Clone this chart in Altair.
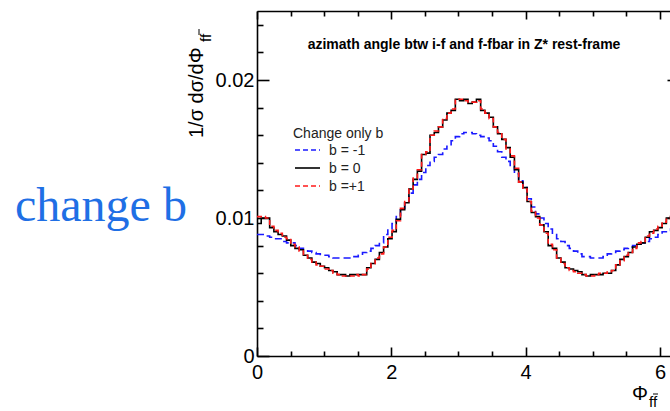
import math
import altair as alt
import pandas as pd

# ---------------- data (100 bins over 0..2pi) ----------------
N_BINS = 100
PHI_MAX = 2 * math.pi

b_minus1 = [
    0.0088, 0.0088, 0.0087, 0.0086, 0.0085, 0.0085, 0.0083, 0.0082, 0.0082, 0.0080,
    0.0078, 0.0077, 0.0076, 0.0075, 0.0074, 0.0073, 0.0073, 0.0072, 0.0071, 0.0071,
    0.0071, 0.0071, 0.0072, 0.0072, 0.0073, 0.0075, 0.0076, 0.0078, 0.0080, 0.0082,
    0.0088, 0.0092, 0.0096, 0.0101, 0.0106, 0.0112, 0.0118, 0.0124, 0.0128, 0.0133,
    0.0138, 0.0141, 0.0144, 0.0146, 0.0150, 0.0152, 0.0156, 0.0159, 0.0161, 0.0162,
    0.0162, 0.0161, 0.0160, 0.0159, 0.0158, 0.0156, 0.0152, 0.0148, 0.0144, 0.0141,
    0.0137, 0.0132, 0.0127, 0.0122, 0.0114, 0.0108, 0.0103, 0.0100, 0.0096, 0.0092,
    0.0088, 0.0085, 0.0083, 0.0080, 0.0078, 0.0076, 0.0074, 0.0072, 0.0072, 0.0071,
    0.0071, 0.0071, 0.0072, 0.0074, 0.0075, 0.0076, 0.0077, 0.0078, 0.0079, 0.0080,
    0.0081, 0.0082, 0.0083, 0.0085, 0.0086, 0.0088, 0.0090, 0.0091, 0.0092, 0.0090,
]

b_zero = [
    0.0096, 0.0100, 0.0100, 0.0093, 0.0090, 0.0088, 0.0087, 0.0084, 0.0080, 0.0078,
    0.0077, 0.0073, 0.0071, 0.0068, 0.0067, 0.0065, 0.0064, 0.0062, 0.0061, 0.0059,
    0.0059, 0.0058, 0.0059, 0.0059, 0.0059, 0.0059, 0.0064, 0.0067, 0.0070, 0.0075,
    0.0079, 0.0085, 0.0090, 0.0099, 0.0106, 0.0111, 0.0121, 0.0128, 0.0134, 0.0146,
    0.0147, 0.0160, 0.0162, 0.0166, 0.0171, 0.0176, 0.0178, 0.0186, 0.0185, 0.0186,
    0.0183, 0.0184, 0.0186, 0.0178, 0.0176, 0.0173, 0.0166, 0.0161, 0.0157, 0.0151,
    0.0144, 0.0135, 0.0126, 0.0122, 0.0112, 0.0104, 0.0101, 0.0095, 0.0090, 0.0080,
    0.0078, 0.0071, 0.0068, 0.0064, 0.0063, 0.0062, 0.0061, 0.0059, 0.0058, 0.0059,
    0.0059, 0.0059, 0.0060, 0.0060, 0.0062, 0.0066, 0.0070, 0.0072, 0.0075, 0.0079,
    0.0081, 0.0082, 0.0086, 0.0090, 0.0091, 0.0093, 0.0096, 0.0100, 0.0101, 0.0097,
]

b_plus1 = [
    0.0101, 0.0101, 0.0100, 0.0094, 0.0091, 0.0089, 0.0086, 0.0085, 0.0081, 0.0079,
    0.0076, 0.0073, 0.0070, 0.0068, 0.0066, 0.0065, 0.0063, 0.0062, 0.0060, 0.0059,
    0.0058, 0.0058, 0.0058, 0.0059, 0.0058, 0.0059, 0.0063, 0.0067, 0.0071, 0.0074,
    0.0079, 0.0086, 0.0091, 0.0098, 0.0107, 0.0112, 0.0121, 0.0129, 0.0135, 0.0146,
    0.0148, 0.0160, 0.0163, 0.0166, 0.0172, 0.0176, 0.0179, 0.0186, 0.0186, 0.0185,
    0.0184, 0.0184, 0.0185, 0.0179, 0.0176, 0.0172, 0.0166, 0.0162, 0.0157, 0.0150,
    0.0145, 0.0136, 0.0126, 0.0121, 0.0112, 0.0105, 0.0100, 0.0095, 0.0089, 0.0081,
    0.0077, 0.0071, 0.0067, 0.0064, 0.0062, 0.0061, 0.0060, 0.0059, 0.0058, 0.0058,
    0.0059, 0.0060, 0.0060, 0.0061, 0.0062, 0.0066, 0.0069, 0.0073, 0.0075, 0.0078,
    0.0082, 0.0083, 0.0087, 0.0089, 0.0092, 0.0094, 0.0097, 0.0099, 0.0101, 0.0098,
]

x_major = [0, 2, 4, 6]
x_minor = [0.5, 1, 1.5, 2.5, 3, 3.5, 4.5, 5, 5.5]
y_major = [0, 0.01, 0.02]
y_minor = [0.002, 0.004, 0.006, 0.008, 0.012, 0.014, 0.016, 0.018, 0.022, 0.024]

title_text = "azimath angle btw i-f and f-fbar in Z* rest-frame"
legend_title = "Change only b"
legend_labels = ["b = -1", "b = 0", "b =+1"]
side_text = "change b"
y_title = "1/σ dσ/dΦ"
x_title = "Φ"
sub_text = "ff"

# ---------------- layout ----------------
W, H = 413, 345
X_DOMAIN = [0, 6.149]
Y_DOMAIN = [0, 0.025]
FONT = "Liberation Sans"
FRAME_W = 1.6

edges = [i * PHI_MAX / N_BINS for i in range(N_BINS + 1)]


def hist_df(vals):
    return pd.DataFrame({"phi": edges, "v": vals + [vals[-1]]})


xs = alt.Scale(domain=X_DOMAIN, nice=False, zero=False)
ys = alt.Scale(domain=Y_DOMAIN, nice=False, zero=False)


def tick_axis(orient, values, size, offset=0, domain=False):
    kw = dict(orient=orient, values=values, ticks=True, tickSize=size,
              tickColor="black", tickWidth=FRAME_W, labels=False, grid=False,
              title=None, domain=domain)
    if domain:
        kw.update(domainColor="black", domainWidth=FRAME_W)
    if offset:
        kw["offset"] = offset
    return alt.Axis(**kw)


ax_x_labels = alt.Axis(orient="bottom", values=x_major, ticks=False, domain=True,
                       domainColor="black", domainWidth=FRAME_W, labels=True,
                       labelFont=FONT, labelFontSize=20, labelColor="black",
                       labelPadding=6, labelFlush=False,
                       labelExpr="format(datum.value, 'd')",
                       grid=False, title=None)
ax_y_labels = alt.Axis(orient="left", values=y_major, ticks=False, domain=True,
                       domainColor="black", domainWidth=FRAME_W, labels=True,
                       labelFont=FONT, labelFontSize=20, labelColor="black",
                       labelPadding=3, labelFlush=False,
                       labelExpr="datum.value == 0 ? '0' : format(datum.value, '.2f')",
                       grid=False, title=None)


def line_layer(vals, color, dash, xaxis, yaxis, width=1.6):
    kw = dict(interpolate="step-after", clip=True, color=color, strokeWidth=width)
    if dash:
        kw["strokeDash"] = dash
    return alt.Chart(hist_df(vals)).mark_line(**kw).encode(
        x=alt.X("phi:Q", scale=xs, axis=xaxis),
        y=alt.Y("v:Q", scale=ys, axis=yaxis),
    )


blue = line_layer(b_minus1, "#1a1aff", [7, 4], ax_x_labels, ax_y_labels)
black = line_layer(b_zero, "black", None,
                   tick_axis("top", x_major, 9, offset=-H),
                   tick_axis("right", y_major, 12, offset=-W))
red = line_layer(b_plus1, "#ff1a1a", [5, 3],
                 tick_axis("top", x_minor, 5, offset=-H),
                 tick_axis("right", y_minor, 6, offset=-W))

holder1 = alt.Chart(hist_df(b_zero)).mark_point(opacity=0).encode(
    x=alt.X("phi:Q", scale=xs, axis=tick_axis("bottom", x_major, 8, offset=-H, domain=True)),
    y=alt.Y("v:Q", scale=ys, axis=tick_axis("left", [0.01, 0.02], 3, offset=-W)),
)
holder2 = alt.Chart(hist_df(b_zero)).mark_point(opacity=0).encode(
    x=alt.X("phi:Q", scale=xs, axis=tick_axis("bottom", x_minor, 5, offset=-H)),
    y=alt.Y("v:Q", scale=ys, axis=None),
)


def txt(s, x, y, size, font=FONT, color="black", angle=None, weight=None, align="left"):
    kw = dict(font=font, fontSize=size, color=color, align=align, baseline="alphabetic")
    if angle is not None:
        kw["angle"] = angle
    if weight is not None:
        kw["fontWeight"] = weight
    return alt.Chart(pd.DataFrame({"t": [s]})).mark_text(**kw).encode(
        text="t:N", x=alt.value(x), y=alt.value(y))


def seg(x1, x2, y, color, dash, width=1.6):
    kw = dict(color=color, strokeWidth=width)
    if dash:
        kw["strokeDash"] = dash
    return alt.Chart(pd.DataFrame({"t": [0]})).mark_rule(**kw).encode(
        x=alt.value(x1), x2=alt.value(x2), y=alt.value(y))


def vseg(x, y1, y2, width=1.0):
    return alt.Chart(pd.DataFrame({"t": [0]})).mark_rule(color="black", strokeWidth=width).encode(
        x=alt.value(x), y=alt.value(y1), y2=alt.value(y2))


layers = [
    blue, black, red, holder1, holder2,
    txt(title_text, 207, 38, 14, weight="bold", align="center"),
    txt(legend_title, 36, 127, 14, color="#222222"),
    seg(38, 63, 139, "#1a1aff", [5, 3]),
    seg(38, 63, 157, "black", None),
    seg(38, 63, 175, "#ff1a1a", [5, 3]),
    txt(legend_labels[0], 72, 144, 14, color="#222222"),
    txt(legend_labels[1], 72, 162, 14, color="#222222"),
    txt(legend_labels[2], 72, 180, 14, color="#222222"),
    txt(side_text, -242, 210, 48, font="Liberation Serif", color="#1f6fe5"),
    # y title with subscript f f-bar
    txt(y_title, -54, 127, 20, angle=270),
    txt(sub_text, -46, 31, 15, angle=270),
    vseg(-58, 18, 24),
    # x title with subscript f f-bar
    txt(x_title, 375, 389, 20),
    txt(sub_text, 392, 396, 15),
    seg(396, 401, 383, "black", None, width=1.0),
]

chart = alt.layer(*layers).resolve_axis(x="independent", y="independent").properties(
    width=W, height=H,
    padding={"left": 257, "top": 11, "right": 0, "bottom": 55},
    autosize=alt.AutoSizeParams(type="none"),
).configure_view(stroke=None).configure(background="white")

chart.save("out.html", embed_options={"renderer": "svg", "actions": False})
